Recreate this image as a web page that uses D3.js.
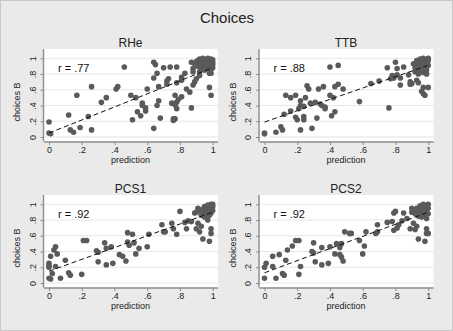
<!DOCTYPE html>
<html><head><meta charset="utf-8">
<script src="https://cdn.jsdelivr.net/npm/d3@7"></script>
<style>
html,body{margin:0;padding:0;background:#eaeaea;}
svg{display:block;font-family:"Liberation Sans",Arial,sans-serif;}
</style></head>
<body>
<svg id="chart" width="453" height="331"></svg>
<script>
const chartTitle = "Choices";
const panelNames = ["RHe", "TTB", "PCS1", "PCS2"];
const rValues = ["r = .77", "r = .88", "r = .92", "r = .92"];
const xTicks = [0, .2, .4, .6, .8, 1];
const yTicks = [0, .2, .4, .6, .8, 1];
const tickLabels = ["0", ".2", ".4", ".6", ".8", "1"];
const xTitle = "prediction";
const yTitle = "choices B";
// fitted line: value at prediction 0 and at prediction 1
const fitRHe = [0.05, 0.88];
const fitTTB = [0.19, 0.91];
const fitPCS1 = [0.15, 0.90];
const fitPCS2 = [0.13, 0.90];

const dataRHe = [
[0,.19],[0,.05],[.01,.04],[.12,.28],[.13,.09],[.15,.06],[.19,.12],[.17,.53],[.24,.26],[.26,.64],
[.26,.09],[.32,.44],[.35,.5],[.41,.61],[.42,.64],[.46,.89],[.5,.53],[.51,.22],[.53,.5],[.54,.32],
[.56,.27],[.57,.43],[.57,.4],[.59,.37],[.59,.33],[.6,.61],[.64,.11],[.64,.95],[.65,.92],[.64,.75],
[.66,.81],[.66,.4],[.67,.64],[.67,.46],[.68,.24],[.70,.88],[.72,.71],[.72,.67],[.74,.89],[.73,.74],
[.75,.43],[.76,.21],[.76,.23],[.77,.23],[.77,.53],[.78,.89],[.78,.69],[.78,.44],[.78,.36],[.77,.41],
[.79,.48],[.81,.72],[.81,.51],[.81,.76],[.83,.81],[.84,.61],[.86,.57],[.87,.37],[.87,.95],[.88,.87],
[.88,.66],[.88,.83],[.89,.70],[.9,.74],[.9,.96],[.92,.78],[.92,.96],[.98,.63],[.99,.53],[.98,.81],
[.99,.81],[.92,.83],[.97,.87],
[.89,.93],[.91,.9],[.92,.99],[.93,.94],[.94,.9],[.94,1],[.95,.96],[.95,.92],[.96,.98],[.96,.88],
[.97,.95],[.97,1],[.98,.92],[.98,.97],[.99,.99],[.99,.9],[1,.95],[1,.98],[1,.88],[.93,.87],
[.95,.85],[.91,.97],[.96,.93],[.99,.86],[1,.92]
];
const dataTTB = [
[0,.05],[0,.04],[.07,.06],[.1,.13],[.11,.09],[.12,.29],[.13,.53],[.16,.5],[.16,.33],[.19,.53],
[.19,.25],[.2,.22],[.21,.36],[.22,.46],[.22,.09],[.22,.4],[.24,.39],[.24,.26],[.24,.22],[.25,.5],
[.26,.65],[.27,.61],[.28,.43],[.29,.11],[.31,.44],[.32,.24],[.33,.61],[.34,.42],[.36,.64],[.35,.4],
[.37,.38],[.37,.36],[.4,.89],[.4,.53],[.41,.27],[.42,.5],[.43,.32],[.43,.64],[.45,.91],[.45,.67],
[.48,.61],[.58,.45],[.65,.68],[.7,.71],[.75,.88],[.76,.37],[.77,.74],[.78,.78],[.79,.75],[.8,.95],
[.81,.87],[.81,.79],[.83,.75],[.83,.66],[.85,.89],[.88,.79],[.89,.70],[.89,.67],[.9,.68],[.93,.72],
[.94,.69],[.96,.58],[.97,.55],[.98,.53],[.97,.63],[1,.63],[.99,.85],
[.91,.93],[.92,.88],[.93,.97],[.93,.9],[.94,.95],[.95,.85],[.95,.99],[.96,.92],[.96,.88],[.97,.96],
[.97,1],[.98,.93],[.98,.89],[.99,.98],[.99,.95],[1,.97],[1,.91],[1,1],[.92,.83],[.94,.8],
[.97,.82],[.99,.8],[.95,.9]
];
const dataPCS1 = [
[0,.06],[0,.25],[0,.22],[0,.2],[.01,.05],[.01,.34],[.02,.12],[.03,.42],[.04,.46],[.04,.21],
[.05,.37],[.07,.06],[.1,.29],[.12,.13],[.13,.1],[.2,.11],[.21,.54],[.23,.54],[.29,.41],[.3,.39],
[.3,.27],[.34,.51],[.35,.44],[.35,.23],[.38,.46],[.39,.25],[.43,.36],[.45,.34],[.47,.28],[.48,.52],
[.48,.64],[.49,.48],[.51,.62],[.52,.51],[.53,.37],[.55,.44],[.6,.46],[.61,.62],[.69,.74],[.7,.65],
[.71,.65],[.75,.76],[.76,.69],[.78,.62],[.8,.91],[.83,.77],[.84,.69],[.85,.79],[.87,.78],[.89,.89],
[.9,.69],[.91,.76],[.92,.65],[.93,.72],[.94,.56],[.97,.8],[.98,.53],[.99,.69],[.99,.63],
[.9,.9],[.92,.92],[.93,.86],[.94,.94],[.95,.9],[.95,.97],[.96,.87],[.96,.93],[.97,.99],[.97,.95],
[.98,.91],[.98,.97],[.98,.86],[.99,1],[.99,.94],[.99,.89],[1,.97],[1,.92],[1,1],[.95,.84],
[.97,.89],[.91,.95]
];
const dataPCS2 = [
[0,.06],[0,.2],[.01,.25],[.05,.34],[.05,.21],[.07,.06],[.09,.36],[.11,.12],[.12,.1],[.13,.29],
[.14,.42],[.17,.47],[.19,.54],[.21,.54],[.21,.11],[.22,.21],[.29,.4],[.3,.51],[.3,.38],[.31,.27],
[.35,.45],[.35,.23],[.39,.25],[.4,.46],[.43,.37],[.44,.5],[.46,.45],[.46,.36],[.47,.33],[.47,.5],
[.48,.28],[.49,.65],[.52,.63],[.53,.63],[.58,.54],[.6,.37],[.61,.47],[.62,.65],[.68,.63],[.69,.65],
[.69,.74],[.75,.77],[.78,.78],[.79,.67],[.79,.89],[.8,.91],[.81,.7],[.82,.74],[.84,.79],[.85,.89],
[.87,.82],[.89,.69],[.9,.95],[.91,.76],[.92,.68],[.93,.72],[.94,.56],[.96,.84],[.98,.53],[.99,.69],
[.99,.63],[1,.63],
[.9,.9],[.91,.93],[.92,.88],[.93,.95],[.94,.91],[.95,.98],[.95,.87],[.96,.93],[.96,.97],[.97,.9],
[.97,1],[.98,.95],[.98,.88],[.99,.98],[.99,.92],[1,1],[1,.95],[1,.88],[.94,.85],[.97,.86],
[.99,.82],[.92,.92]
];

const panelData = [dataRHe, dataTTB, dataPCS1, dataPCS2];
const panelFits = [fitRHe, fitTTB, fitPCS1, fitPCS2];

const svg = d3.select("#chart");
svg.append("rect").attr("x",0.5).attr("y",0.5).attr("width",452).attr("height",330)
  .attr("fill","#eaeaea").attr("stroke","#c8c8c8");

svg.append("text").attr("x",227).attr("y",22.5).attr("text-anchor","middle")
  .attr("font-size",15).attr("fill","#222").text(chartTitle);

const dx = 215.5, dy = 146;
panelNames.forEach((name, i) => {
  const c = i % 2, r = Math.floor(i / 2);
  const ox = c * dx, oy = r * dy;
  const x = d3.scaleLinear().domain([0,1]).range([49 + ox, 212.7 + ox]);
  const y = d3.scaleLinear().domain([0,1]).range([137 + oy, 58.3 + oy]);
  const left = 44 + ox, right = 218 + ox, top = 49 + oy, bottom = 141.5 + oy;
  const g = svg.append("g");

  g.append("text").attr("x", (left+right)/2 - 0.5).attr("y", 47 + oy).attr("text-anchor","middle")
    .attr("font-size",12).attr("fill","#222").text(name);

  g.append("rect").attr("x",left).attr("y",top).attr("width",right-left).attr("height",bottom-top)
    .attr("fill","#fff");

  g.selectAll(".grid").data(yTicks).join("line")
    .attr("x1",left).attr("x2",right).attr("y1",d=>y(d)).attr("y2",d=>y(d))
    .attr("stroke","#e6e6e6").attr("stroke-width",1);

  const xa = g.append("g").attr("transform",`translate(0,${bottom})`)
    .call(d3.axisBottom(x).tickValues(xTicks).tickFormat((d,k)=>tickLabels[k]).tickSize(3.5).tickPadding(1.5));
  xa.select(".domain").attr("d",`M${left},0.5H${right}`).attr("stroke","#8c8c8c").attr("stroke-width",1.4);
  xa.selectAll(".tick line").attr("stroke","#8c8c8c");
  xa.selectAll(".tick text").attr("font-size",9).attr("fill","#222").attr("font-family","Liberation Sans, Arial, sans-serif");

  const ya = g.append("g").attr("transform",`translate(${left},0)`)
    .call(d3.axisLeft(y).tickValues(yTicks).tickFormat((d,k)=>tickLabels[k]).tickSize(3.5).tickPadding(2));
  ya.select(".domain").attr("d",`M-0.5,${top}V${bottom}`).attr("stroke","#8c8c8c").attr("stroke-width",1.4);
  ya.selectAll(".tick line").attr("stroke","#8c8c8c");
  ya.selectAll(".tick text").attr("font-size",9).attr("fill","#222")
    .attr("font-family","Liberation Sans, Arial, sans-serif")
    .attr("text-anchor","middle").attr("dy","0em")
    .attr("transform","translate(-8.5,0) rotate(-90)").attr("x",0).attr("y",0);

  g.append("text").attr("x",(left+right)/2 - 0.5).attr("y",162.5 + oy).attr("text-anchor","middle")
    .attr("font-size",9).attr("fill","#222").text(xTitle);
  g.append("text").attr("transform",`translate(${20 + ox},${102 + oy}) rotate(-90)`).attr("text-anchor","middle")
    .attr("font-size",9).attr("fill","#222").text(yTitle);

  g.selectAll("circle").data(panelData[i]).join("circle")
    .attr("cx",d=>x(d[0])).attr("cy",d=>y(d[1])).attr("r",2.8).attr("fill","#5a5a5a");

  const fit = panelFits[i];
  g.append("line").attr("x1",x(0)).attr("y1",y(fit[0])).attr("x2",x(1)).attr("y2",y(fit[1]))
    .attr("stroke","#111").attr("stroke-width",1).attr("stroke-dasharray","5,3");

  g.append("text").attr("x",58 + ox).attr("y",71.5 + oy).attr("font-size",11).attr("fill","#111").text(rValues[i]);
});
</script>
</body></html>
